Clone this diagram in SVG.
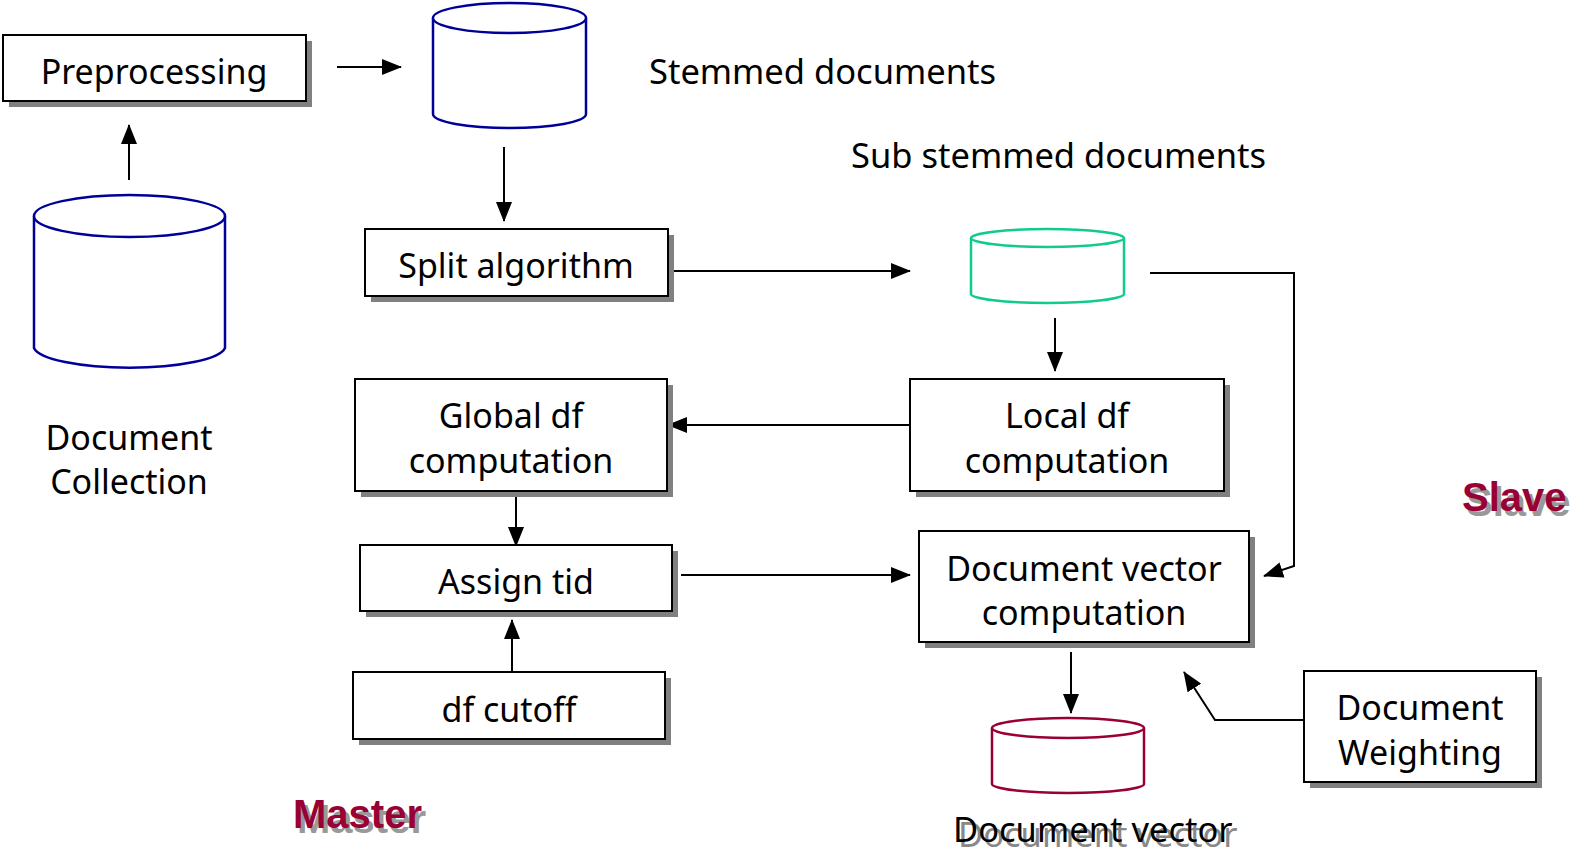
<svg xmlns="http://www.w3.org/2000/svg" width="1574" height="851" viewBox="0 0 1574 851">
  <style>
    .box { fill: #ffffff; stroke: #000000; stroke-width: 2; }
    .shadow { fill: #808080; }
    .lbl { font-family: "Noto Sans", "DejaVu Sans", sans-serif; font-size: 34px; fill: #000000; text-anchor: middle; }
    .note { font-family: "Noto Sans", "DejaVu Sans", sans-serif; font-size: 34.5px; fill: #000000; }
    .wire { fill: none; stroke: #000000; stroke-width: 2; }
    .cyl { fill: #ffffff; stroke-width: 2.5; }
    .tag { font-family: "Liberation Sans", Arial, sans-serif; font-size: 40px; font-weight: bold; }
  </style>
  <defs>
    <marker id="head" viewBox="0 0 20 16" refX="19" refY="8" markerWidth="20" markerHeight="16" markerUnits="userSpaceOnUse" orient="auto">
      <path d="M0,0 L20,8 L0,16 Z" fill="#000000"/>
    </marker>
  </defs>

  <rect width="1574" height="851" fill="#ffffff"/>

  <!-- connectors -->
  <g id="connectors">
    <line class="wire" x1="337" y1="67" x2="401" y2="67" marker-end="url(#head)"/>
    <line class="wire" x1="129" y1="180" x2="129" y2="125" marker-end="url(#head)"/>
    <line class="wire" x1="504" y1="147" x2="504" y2="221" marker-end="url(#head)"/>
    <line class="wire" x1="668" y1="271" x2="910" y2="271" marker-end="url(#head)"/>
    <polyline class="wire" points="1150,273 1294,273 1294,566 1264,576" marker-end="url(#head)"/>
    <line class="wire" x1="1055" y1="318" x2="1055" y2="371" marker-end="url(#head)"/>
    <line class="wire" x1="910" y1="425" x2="668" y2="425" marker-end="url(#head)"/>
    <line class="wire" x1="516" y1="496" x2="516" y2="546" marker-end="url(#head)"/>
    <line class="wire" x1="681" y1="575" x2="910" y2="575" marker-end="url(#head)"/>
    <line class="wire" x1="512" y1="672" x2="512" y2="620" marker-end="url(#head)"/>
    <line class="wire" x1="1071" y1="652" x2="1071" y2="713" marker-end="url(#head)"/>
    <polyline class="wire" points="1304,720 1215,720 1184,672" marker-end="url(#head)"/>
  </g>

  <!-- process boxes -->
  <g id="preprocessing">
    <rect class="shadow" x="9" y="41" width="303" height="66"/>
    <rect class="box" x="3" y="35" width="303" height="66"/>
    <text class="lbl" x="154" y="84">Preprocessing</text>
  </g>
  <g id="split-algorithm">
    <rect class="shadow" x="371" y="235" width="303" height="67"/>
    <rect class="box" x="365" y="229" width="303" height="67"/>
    <text class="lbl" x="516" y="278">Split algorithm</text>
  </g>
  <g id="global-df">
    <rect class="shadow" x="361" y="385" width="312" height="112"/>
    <rect class="box" x="355" y="379" width="312" height="112"/>
    <text class="lbl" x="511" y="428">Global df</text>
    <text class="lbl" x="511" y="473">computation</text>
  </g>
  <g id="local-df">
    <rect class="shadow" x="916" y="385" width="314" height="112"/>
    <rect class="box" x="910" y="379" width="314" height="112"/>
    <text class="lbl" x="1067" y="428">Local df</text>
    <text class="lbl" x="1067" y="473">computation</text>
  </g>
  <g id="assign-tid">
    <rect class="shadow" x="366" y="551" width="312" height="66"/>
    <rect class="box" x="360" y="545" width="312" height="66"/>
    <text class="lbl" x="516" y="594">Assign tid</text>
  </g>
  <g id="df-cutoff">
    <rect class="shadow" x="359" y="678" width="312" height="67"/>
    <rect class="box" x="353" y="672" width="312" height="67"/>
    <text class="lbl" x="509" y="722">df cutoff</text>
  </g>
  <g id="document-vector-computation">
    <rect class="shadow" x="925" y="537" width="330" height="111"/>
    <rect class="box" x="919" y="531" width="330" height="111"/>
    <text class="lbl" x="1084" y="581">Document vector</text>
    <text class="lbl" x="1084" y="625">computation</text>
  </g>
  <g id="document-weighting">
    <rect class="shadow" x="1310" y="677" width="232" height="111"/>
    <rect class="box" x="1304" y="671" width="232" height="111"/>
    <text class="lbl" x="1420" y="720">Document</text>
    <text class="lbl" x="1420" y="765">Weighting</text>
  </g>

  <!-- data stores -->
  <g id="document-collection">
    <path class="cyl" stroke="#000099" d="M34,216 L34,348 A96,22 0 0 0 225,348 L225,216"/>
    <ellipse class="cyl" stroke="#000099" cx="129.5" cy="216" rx="95.5" ry="21"/>
    <text class="lbl" x="129" y="450">Document</text>
    <text class="lbl" x="129" y="494">Collection</text>
  </g>
  <g id="stemmed-documents">
    <path class="cyl" stroke="#000099" d="M433,18 L433,114 A76.5,14 0 0 0 586,114 L586,18"/>
    <ellipse class="cyl" stroke="#000099" cx="509.5" cy="18" rx="76.5" ry="15"/>
    <text class="note" x="649" y="84">Stemmed documents</text>
  </g>
  <g id="sub-stemmed-documents">
    <path class="cyl" stroke="#11cc88" d="M971,238 L971,294 A76.5,9 0 0 0 1124,294 L1124,238"/>
    <ellipse class="cyl" stroke="#11cc88" cx="1047.5" cy="238" rx="76.5" ry="9"/>
    <text class="note" x="851" y="168">Sub stemmed documents</text>
  </g>
  <g id="document-vector">
    <path class="cyl" stroke="#990033" d="M992,728 L992,784 A76,9 0 0 0 1144,784 L1144,728"/>
    <ellipse class="cyl" stroke="#990033" cx="1068" cy="728" rx="76" ry="10"/>
    <text class="note" x="958" y="847" style="fill:#888888">Document vector</text>
    <text class="note" x="953" y="842">Document vector</text>
  </g>

  <!-- side labels -->
  <g id="master-label">
    <text class="tag" x="297" y="833" fill="#999999">Master</text>
    <text class="tag" x="293" y="828" fill="#990033">Master</text>
  </g>
  <g id="slave-label">
    <text class="tag" x="1466" y="516" fill="#999999">Slave</text>
    <text class="tag" x="1462" y="511" fill="#990033">Slave</text>
  </g>
</svg>
